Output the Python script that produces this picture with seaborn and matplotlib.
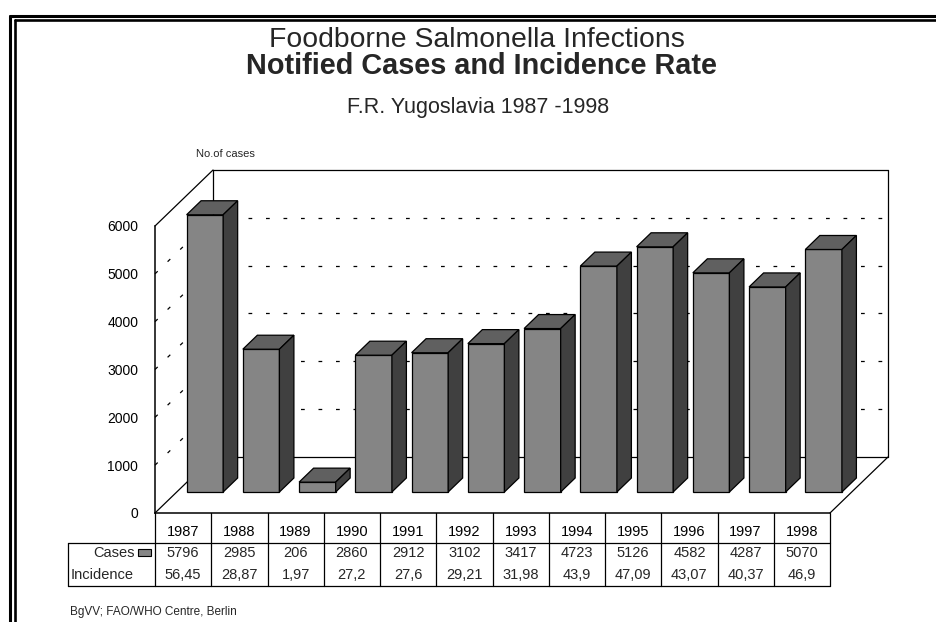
import matplotlib
matplotlib.use("Agg")
import matplotlib.pyplot as plt
import seaborn as sns
import pandas as pd
from matplotlib.patches import Polygon, Rectangle
from matplotlib.lines import Line2D
from matplotlib.transforms import IdentityTransform, Affine2D, blended_transform_factory

# ---------------- data ----------------
years = ['1987', '1988', '1989', '1990', '1991', '1992',
         '1993', '1994', '1995', '1996', '1997', '1998']
cases = [5796, 2985, 206, 2860, 2912, 3102, 3417, 4723, 5126, 4582, 4287, 5070]
incidence = ['56,45', '28,87', '1,97', '27,2', '27,6', '29,21',
             '31,98', '43,9', '47,09', '43,07', '40,37', '46,9']
yticks = [0, 1000, 2000, 3000, 4000, 5000, 6000]

title1 = 'Foodborne Salmonella Infections'
title2 = 'Notified Cases and Incidence Rate'
title3 = 'F.R. Yugoslavia 1987 -1998'
ylabel = 'No.of cases'
source = 'BgVV; FAO/WHO Centre, Berlin'

# ---------------- style ----------------
W, H = 936, 622
sns.set_style('white')
plt.rcParams['font.family'] = ['Liberation Sans', 'DejaVu Sans']

FRONT = '#858585'
TOP = '#606060'
SIDE = '#404040'

fig = plt.figure(figsize=(W / 100, H / 100), dpi=100)


def fx(px):
    return px / W


def fy(py):
    return 1 - py / H


X0, X1, Y0, Y1 = 155, 830, 513, 226   # front plane in pixels
DX, DY = 58, 56                        # depth offset in pixels
ax = fig.add_axes([fx(X0), fy(Y0), fx(X1) - fx(X0), fy(Y1) - fy(Y0)])
ax.patch.set_alpha(0)

df = pd.DataFrame({'Year': years, 'Cases': cases})
sns.barplot(data=df, x='Year', y='Cases', ax=ax, color=FRONT, saturation=1,
            width=0.65, edgecolor='black', linewidth=0.9, zorder=5)
n = len(years)
ax.set_xlim(-0.5, n - 0.5)
ax.set_ylim(0, yticks[-1])
ax.set_xlabel('')
ax.set_ylabel('')
ax.set_yticks(yticks)
ax.set_yticklabels([str(v) for v in yticks])
ax.tick_params(axis='y', length=0, pad=12, labelsize=10, colors='black')
ax.tick_params(axis='x', length=0, pad=9, labelsize=10.5, colors='black')
for s in ['top', 'right']:
    ax.spines[s].set_visible(False)
for s in ['left', 'bottom']:
    ax.spines[s].set_color('black')
    ax.spines[s].set_linewidth(1.1)

ID = IdentityTransform()


def P(x, y, d):
    px, py = ax.transData.transform((x, y))
    return (px + DX * d, py + DY * d)


def seg(p, q, **kw):
    kw.setdefault('color', 'black')
    kw.setdefault('lw', 0.9)
    ln = Line2D([p[0], q[0]], [p[1], q[1]], transform=ID, clip_on=False, **kw)
    ax.add_line(ln)


xl, xr = -0.5, n - 0.5
ytop = yticks[-1]
dash = dict(lw=0.9, linestyle=(0, (3, 11)), zorder=1)
# back wall and side wall dashed gridlines
for v in yticks[1:-1]:
    seg(P(xl, v, 1), P(xr, v, 1), **dash)
    seg(P(xl, v, 0), P(xl, v, 1), **dash)
# wall / floor outlines
for a, b in [((xl, ytop, 0), (xl, ytop, 1)), ((xl, 0, 0), (xl, 0, 1)),
             ((xr, 0, 0), (xr, 0, 1)),
             ((xl, 0, 1), (xl, ytop, 1)), ((xl, ytop, 1), (xr, ytop, 1)),
             ((xr, ytop, 1), (xr, 0, 1)), ((xl, 0, 1), (xr, 0, 1))]:
    seg(P(*a), P(*b), zorder=2)

# 3D faces for bars
FD, BD = 0.375, 0.625
for p in list(ax.patches):
    x0, w, h = p.get_x(), p.get_width(), p.get_height()
    p.set_transform(ax.transData + Affine2D().translate(DX * FD, DY * FD))
    p.set_clip_on(False)
    top = [P(x0, h, FD), P(x0 + w, h, FD), P(x0 + w, h, BD), P(x0, h, BD)]
    side = [P(x0 + w, h, FD), P(x0 + w, h, BD), P(x0 + w, 0, BD), P(x0 + w, 0, FD)]
    for verts, col in [(top, TOP), (side, SIDE)]:
        ax.add_patch(Polygon(verts, closed=True, facecolor=col, edgecolor='black',
                             lw=0.9, transform=ID, clip_on=False, zorder=5))

# ---------------- data table ----------------
bt = blended_transform_factory(ax.transData, fig.transFigure)
TL, TR = 68, 830
R1, R2, R3 = 542.7, 586, 513
for k in range(n + 1):
    ax.add_line(Line2D([k - 0.5, k - 0.5], [fy(R3), fy(R2)], transform=bt,
                       color='black', lw=0.9, clip_on=False))
for yy in [R1, R2]:
    ax.add_line(Line2D([fx(TL), fx(TR)], [fy(yy), fy(yy)], transform=fig.transFigure,
                       color='black', lw=0.9, clip_on=False))
ax.add_line(Line2D([fx(TL), fx(TL)], [fy(R1), fy(R2)], transform=fig.transFigure,
                   color='black', lw=0.9, clip_on=False))
for i in range(n):
    ax.text(i, fy(553), str(cases[i]), transform=bt, ha='center', va='center',
            fontsize=10.5)
    ax.text(i, fy(575), incidence[i], transform=bt, ha='center', va='center',
            fontsize=10.5)
fig.text(fx(135), fy(553), 'Cases', ha='right', va='center', fontsize=10.5)
fig.patches.append(Rectangle((fx(138), fy(556)), fx(13), 7 / H, facecolor=FRONT,
                             edgecolor='black', lw=0.8, transform=fig.transFigure))
fig.text(fx(71), fy(575), 'Incidence', ha='left', va='center', fontsize=10.5)

# ---------------- titles and notes ----------------
fig.text(fx(477), fy(46.8), title1, ha='center', va='baseline', fontsize=20.4)
fig.text(fx(482), fy(74.5), title2, ha='center', va='baseline', fontsize=20.8,
         fontweight='bold')
fig.text(fx(478), fy(113), title3, ha='center', va='baseline', fontsize=15.5)
fig.text(fx(196), fy(154), ylabel, ha='left', va='center', fontsize=8)
fig.text(fx(70), fy(612), source, ha='left', va='center', fontsize=8.5)

# ---------------- double frame ----------------
for off, lw in [(10, 2.2), (14.7, 1.9)]:
    top_y = off + 5.7
    fig.add_artist(Line2D([fx(off), fx(off)], [fy(top_y), 0], transform=fig.transFigure,
                          color='black', lw=lw))
    fig.add_artist(Line2D([fx(off), 1], [fy(top_y), fy(top_y)], transform=fig.transFigure,
                          color='black', lw=lw))

fig.savefig('out.png', dpi=100)
